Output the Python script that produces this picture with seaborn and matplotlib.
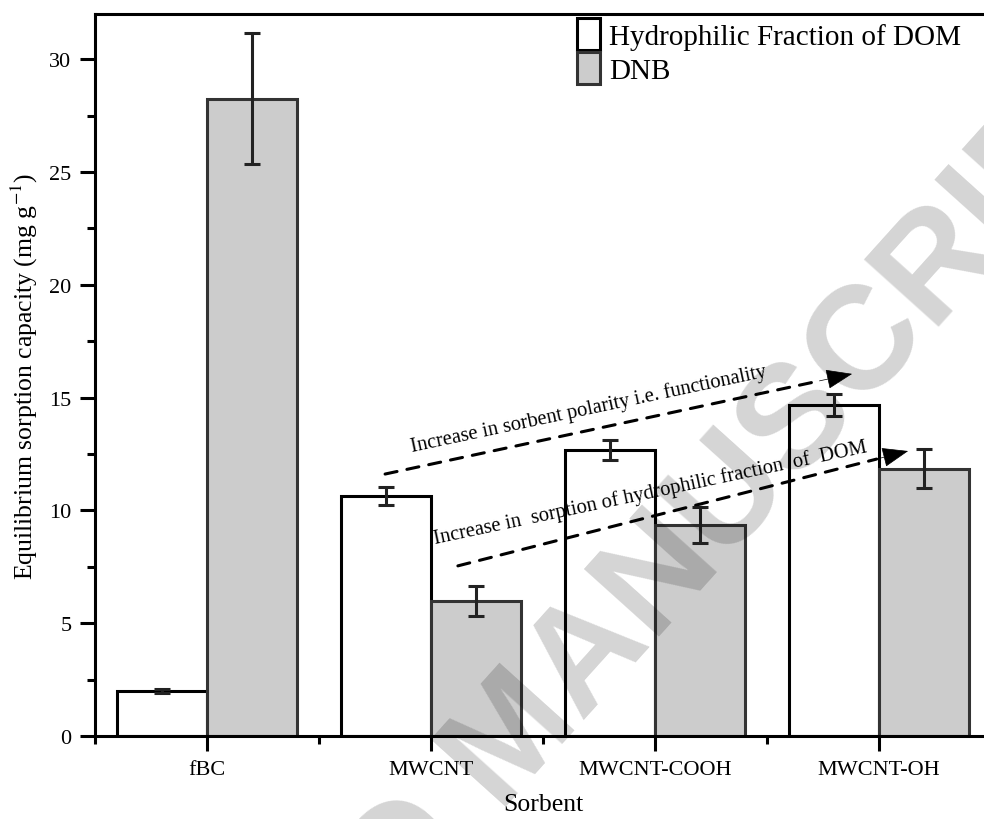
import pandas as pd
import matplotlib
matplotlib.use("Agg")
import matplotlib.pyplot as plt
from matplotlib.patches import Patch
from matplotlib.ticker import MultipleLocator, FixedLocator
import seaborn as sns

# values
sorbents = ["fBC", "MWCNT", "MWCNT-COOH", "MWCNT-OH"]
series = ["Hydrophilic Fraction of DOM", "DNB"]
hydrophilic = [2.0, 10.65, 12.68, 14.67]
hydrophilic_err = [0.08, 0.40, 0.45, 0.50]
dnb = [28.25, 5.98, 9.35, 11.85]
dnb_err = [2.9, 0.65, 0.80, 0.88]

df = pd.DataFrame({
    "Sorbent": sorbents * 2,
    "Series": [series[0]] * 4 + [series[1]] * 4,
    "q": hydrophilic + dnb,
})

sns.set_style("ticks")
plt.rcParams["font.family"] = ["Liberation Serif", "DejaVu Serif"]
plt.rcParams["mathtext.fontset"] = "stix"
plt.rcParams["text.color"] = "black"
plt.rcParams["axes.labelcolor"] = "black"

fig = plt.figure(figsize=(9.84, 8.2), dpi=100)
ax = fig.add_axes([95 / 984, 1 - 737 / 820, 896 / 984, 722 / 820])

sns.barplot(data=df, x="Sorbent", y="q", hue="Series", order=sorbents, hue_order=series,
            palette={series[0]: "white", series[1]: "#cccccc"}, saturation=1,
            errorbar=None, width=0.8, legend=False, ax=ax)

edge_cols = ["black", "#333333"]
for cont, ec, vals, errs in zip(ax.containers, edge_cols, [hydrophilic, dnb], [hydrophilic_err, dnb_err]):
    xs = []
    for b in cont:
        b.set_edgecolor(ec)
        b.set_linewidth(2.2)
        b.set_joinstyle("miter")
        xs.append(b.get_x() + b.get_width() / 2)
    ax.errorbar(xs, vals, yerr=errs, fmt="none", ecolor="#222222", elinewidth=2.2,
                capsize=5.5, capthick=2.2, zorder=4)

ax.set_xlim(-0.5, 3.5)
ax.set_ylim(0, 32)
ax.set_yticks([0, 5, 10, 15, 20, 25, 30])
ax.yaxis.set_minor_locator(MultipleLocator(2.5))
ax.xaxis.set_minor_locator(FixedLocator([-0.5, 0.5, 1.5, 2.5, 3.5]))

for s in ["left", "bottom", "top"]:
    ax.spines[s].set_linewidth(2.2)
    ax.spines[s].set_color("black")
ax.spines["right"].set_visible(False)

ax.tick_params(axis="both", which="major", length=11, width=2.2, labelsize=16, pad=6, colors="black")
ax.tick_params(axis="both", which="minor", length=6, width=2.2, colors="black")

ax.set_xlabel("Sorbent", fontsize=18.5)
ax.set_ylabel("Equilibrium sorption capacity (mg g$^{-1}$)", fontsize=18.5)
ax.xaxis.set_label_coords(0.5, -0.079)
ax.yaxis.set_label_coords(-0.061, 0.5)

handles = [Patch(facecolor="white", edgecolor="black", linewidth=2.2),
           Patch(facecolor="#cccccc", edgecolor="#333333", linewidth=2.2)]
ax.legend(handles, series, loc="upper left", bbox_to_anchor=(577 / 984, 1 - 19 / 820),
          bbox_transform=fig.transFigure, frameon=False, fontsize=21,
          handlelength=0.8, handleheight=1.3, handletextpad=0.3, labelspacing=0.08,
          borderpad=0, borderaxespad=0)

# dashed trend arrows: dashed shaft plus a solid head
arrows = [((0.795, 11.61), (2.88, 16.05)), ((1.12, 7.54), (3.13, 12.63))]
for (x0, y0), (x1, y1) in arrows:
    xb, yb = x1 - 0.07 * (x1 - x0), y1 - 0.07 * (y1 - y0)
    ax.annotate("", xy=(xb, yb), xytext=(x0, y0),
                arrowprops=dict(arrowstyle="-", color="black", lw=2.2,
                                linestyle=(0, (4, 3.3)), shrinkA=0, shrinkB=0))
    ax.annotate("", xy=(x1, y1), xytext=(xb, yb),
                arrowprops=dict(arrowstyle="-|>,head_length=0.85,head_width=0.32", color="black",
                                lw=0.5, mutation_scale=20, shrinkA=0, shrinkB=0))

ax.text(0.915, 12.63, "Increase in sorbent polarity i.e. functionality", rotation=12,
        rotation_mode="anchor", ha="left", va="baseline", fontsize=14.8)
ax.text(1.018, 8.55, "Increase in  sorption of hydrophilic fraction  of  DOM", rotation=12,
        rotation_mode="anchor", ha="left", va="baseline", fontsize=14.8)

# watermark of the source page
fig.text(515 / 984, 1 - 740 / 820, "ACCEPTED MANUSCRIPT", rotation=48, rotation_mode="anchor",
         ha="center", va="center", fontsize=106, fontweight="bold",
         family=["Liberation Sans", "DejaVu Sans"], color="black", alpha=0.17, zorder=10)

fig.savefig("out.png", dpi=100)
